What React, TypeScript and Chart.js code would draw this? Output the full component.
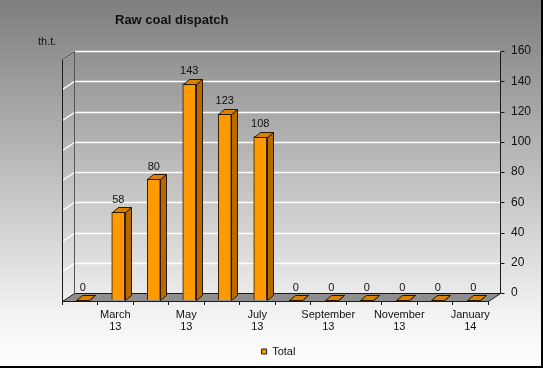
import React, { useEffect, useRef } from 'react';
import { Chart, registerables } from 'chart.js';
Chart.register(...registerables);

const categories: string[][] = [
  ['February', '13'], ['March', '13'], ['April', '13'], ['May', '13'], ['June', '13'], ['July', '13'],
  ['August', '13'], ['September', '13'], ['October', '13'], ['November', '13'], ['December', '13'], ['January', '14'],
];
const totalValues = [0, 58, 80, 143, 123, 108, 0, 0, 0, 0, 0, 0];
const seriesName = 'Total';
const chartTitle = 'Raw coal dispatch';
const unitLabel = 'th.t.';
const yMin = 0;
const yMax = 160;
const yStep = 20;

const FONT = "'Liberation Sans', Arial, sans-serif";
const DX = 12;
const DY = -8;
const BAR_SHIFT_X = 3;
const BAR_SHIFT_Y = -1;
const BDX = 6;
const BDY = -5;

const plugin3d = {
  id: 'threeD',
  beforeDraw(chart: any) {
    const { ctx, chartArea: ca, scales } = chart;
    const ys = scales.y;
    const W = chart.width;
    const H = chart.height;
    ctx.save();
    const g = ctx.createLinearGradient(0, 0, 0, H);
    g.addColorStop(0, '#7e7e7e');
    g.addColorStop(0.85, '#f2f2f2');
    g.addColorStop(1, '#ffffff');
    ctx.fillStyle = g;
    ctx.fillRect(0, 0, W, H);
    ctx.fillStyle = '#000';
    ctx.fillRect(W - 2, 0, 2, H);
    ctx.fillRect(0, H - 2, W, 2);

    const L = Math.round(ca.left) + 0.5;
    const R = Math.round(ca.right) + 0.5;
    const yf = (v: number) => Math.round(ys.getPixelForValue(v)) + 0.5;
    const y0 = yf(yMin);
    const yT = yf(yMax);

    // gridlines on back wall and left wall
    ctx.strokeStyle = '#ffffff';
    ctx.lineWidth = 1.5;
    for (let v = yMin + yStep; v <= yMax; v += yStep) {
      const a = yf(v);
      ctx.beginPath();
      ctx.moveTo(L, a);
      ctx.lineTo(L + DX, a + DY);
      ctx.lineTo(R + DX, a + DY);
      ctx.stroke();
    }

    // floor
    ctx.lineWidth = 1;
    ctx.beginPath();
    ctx.moveTo(L, y0);
    ctx.lineTo(R, y0);
    ctx.lineTo(R + DX, y0 + DY);
    ctx.lineTo(L + DX, y0 + DY);
    ctx.closePath();
    ctx.fillStyle = '#8e8e8e';
    ctx.fill();
    ctx.strokeStyle = '#1a1a1a';
    ctx.stroke();

    // left wall
    ctx.strokeStyle = '#555';
    ctx.beginPath();
    ctx.moveTo(L + DX, yT + DY);
    ctx.lineTo(L + DX, y0 + DY);
    ctx.stroke();
    ctx.strokeStyle = '#1a1a1a';
    ctx.beginPath();
    ctx.moveTo(L, y0);
    ctx.lineTo(L, yT);
    ctx.lineTo(L + DX, yT + DY);
    ctx.stroke();

    // right axis
    ctx.beginPath();
    ctx.moveTo(R + DX, yT + DY);
    ctx.lineTo(R + DX, y0 + DY);
    for (let v = yMin; v <= yMax; v += yStep) {
      const a = yf(v) + DY;
      ctx.moveTo(R + DX, a);
      ctx.lineTo(R + DX + 4, a);
    }
    ctx.stroke();
    ctx.restore();
  },
  beforeDatasetsDraw(chart: any) {
    chart.ctx.save();
    chart.ctx.translate(BAR_SHIFT_X, BAR_SHIFT_Y);
  },
  afterDatasetsDraw(chart: any) {
    const { ctx } = chart;
    const meta = chart.getDatasetMeta(0);
    ctx.lineWidth = 1;
    ctx.strokeStyle = '#2a1800';
    meta.data.forEach((bar: any) => {
      const w = bar.width;
      const l = Math.round(bar.x - w / 2) + 0.5;
      const r = Math.round(bar.x + w / 2) + 0.5;
      const t = Math.round(bar.y) + 0.5;
      const b = Math.round(bar.base) + 0.5;
      // side
      ctx.beginPath();
      ctx.moveTo(r, t);
      ctx.lineTo(r + BDX, t + BDY);
      ctx.lineTo(r + BDX, b + BDY);
      ctx.lineTo(r, b);
      ctx.closePath();
      ctx.fillStyle = '#b86a00';
      ctx.fill();
      ctx.stroke();
      // top
      ctx.beginPath();
      ctx.moveTo(l, t);
      ctx.lineTo(l + BDX, t + BDY);
      ctx.lineTo(r + BDX, t + BDY);
      ctx.lineTo(r, t);
      ctx.closePath();
      ctx.fillStyle = '#d98200';
      ctx.fill();
      ctx.stroke();
    });
    ctx.restore();

    // value labels
    ctx.save();
    ctx.fillStyle = '#111';
    ctx.font = `11px ${FONT}`;
    ctx.textAlign = 'center';
    ctx.textBaseline = 'middle';
    meta.data.forEach((bar: any, i: number) => {
      ctx.fillText(String(totalValues[i]), bar.x + BAR_SHIFT_X, bar.y + BAR_SHIFT_Y - 12.5);
    });
    ctx.restore();
  },
  afterDraw(chart: any) {
    const { ctx } = chart;
    ctx.save();
    ctx.fillStyle = '#111';
    ctx.textAlign = 'left';
    ctx.textBaseline = 'alphabetic';
    ctx.font = `bold 13px ${FONT}`;
    ctx.fillText(chartTitle, 115, 24);
    ctx.font = `11px ${FONT}`;
    ctx.fillText(unitLabel, 38, 45);
    ctx.restore();
  },
};

export default function App() {
  const ref = useRef<HTMLCanvasElement>(null);
  useEffect(() => {
    document.body.style.margin = '0';
    const chart = new Chart(ref.current as HTMLCanvasElement, {
      type: 'bar',
      data: {
        labels: categories as any,
        datasets: [
          {
            label: seriesName,
            data: totalValues,
            backgroundColor: '#ff9900',
            borderColor: '#2a1800',
            borderWidth: 1,
            barThickness: 13,
          },
        ],
      },
      options: {
        responsive: false,
        animation: false,
        devicePixelRatio: 1,
        layout: { padding: { left: 14, top: 59, right: 0, bottom: 1 } },
        plugins: {
          title: { display: false },
          tooltip: { enabled: false },
          legend: {
            position: 'bottom',
            labels: {
              boxWidth: 5,
              boxHeight: 5,
              padding: 4,
              color: '#111',
              font: { size: 11, family: FONT },
            },
          },
        },
        scales: {
          x: {
            position: 'bottom',
            grid: { display: true, drawOnChartArea: false, drawTicks: true, tickLength: 4, color: '#111', offset: true },
            border: { display: false },
            ticks: {
              autoSkip: false,
              maxRotation: 0,
              minRotation: 0,
              padding: 4,
              color: '#111',
              font: { size: 11, family: FONT, lineHeight: 1.1 },
              callback: (_v: any, i: number) => (i % 2 === 1 ? categories[i] : ''),
            },
            afterFit: (s: any) => { s.height = 41; },
          },
          y: {
            position: 'right',
            min: yMin,
            max: yMax,
            grid: { display: false },
            border: { display: false },
            ticks: {
              stepSize: yStep,
              padding: 15,
              labelOffset: DY,
              color: '#111',
              font: { size: 12, family: FONT },
            },
            afterFit: (s: any) => { s.width = 55; },
          },
          yL: {
            type: 'linear',
            axis: 'y',
            position: 'left',
            display: true,
            grid: { display: false },
            border: { display: false },
            ticks: { display: false },
            afterFit: (s: any) => { s.width = 48; },
          },
        },
      } as any,
      plugins: [plugin3d],
    });
    return () => chart.destroy();
  }, []);
  return (
    <div style={{ width: 543, height: 368 }}>
      <canvas ref={ref} width={543} height={368} style={{ display: 'block' }} />
    </div>
  );
}
